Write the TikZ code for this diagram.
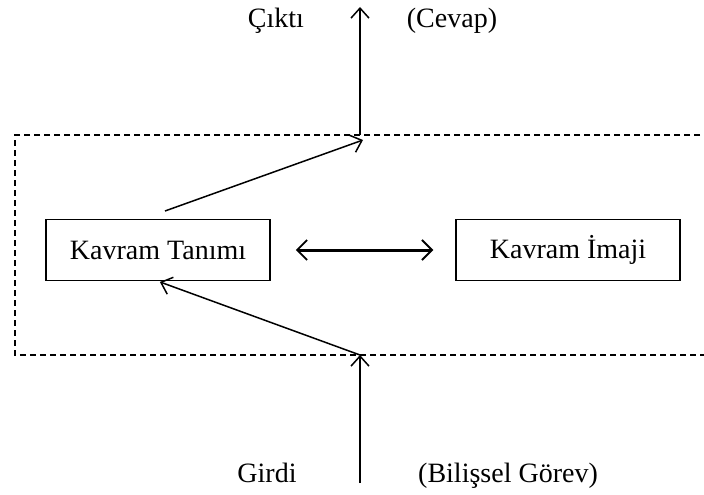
\documentclass[tikz,border=0pt]{standalone}
\usepackage{fontspec}
\setmainfont{Liberation Serif}
\usetikzlibrary{
    arrows.meta,
    positioning,
    calc,
}

\begin{document}
\begin{tikzpicture}[
    x=1pt, y=-1pt,
    every node/.style={font=\fontsize{28}{32}\selectfont, text=black},
    kavram/.style={draw, line width=1.5pt, minimum width=224pt, minimum height=61pt, inner sep=0pt},
    yazi/.style={inner sep=0pt, anchor=base},
    ok/.style={-{Straight Barb[length=10pt,width=18pt,line width=1.5pt]}, line width=1.5pt},
    ciftok/.style={{Straight Barb[length=10pt,width=20pt,line width=1.8pt]}-{Straight Barb[length=10pt,width=20pt,line width=1.8pt]}, line width=3pt},
    bolge/.style={line width=1.4pt, dash pattern=on 6pt off 4pt},
]

\clip (0,0) rectangle (704,495);
\useasboundingbox (0,0) rectangle (704,495);

% dashed region, runs past the right edge
\draw[bolge] (720,135) -- (15,135) -- (15,355) -- (720,355);

\node[kavram] (tanim) at (158,250) {Kavram Tanımı};
\node[kavram] (imaj) at (568,250) {Kavram İmaji};

\coordinate (girdi) at (360,483);
\coordinate (altkesisim) at (360,355);
\coordinate (ustkesisim) at (360,135);
\coordinate (cikti) at (360,7);
\coordinate (tanimust) at (165,211);
\coordinate (ustuc) at (363,140);

\node[yazi] (ciktiyazi) at (276,28) {Çıktı};
\node[yazi] (cevap) at (452,28) {(Cevap)};
\node[yazi] (girdiyazi) at (267,482) {Girdi};
\node[yazi] (gorev) at (508,482) {(Bilişsel Görev)};

\draw[ok] (girdi) -- (altkesisim);
\draw[ok, shorten >=2pt] (altkesisim) -- (tanim.south);
\draw[ok] (tanimust) -- (ustuc);
\draw[ok] (ustkesisim) -- (cikti);
\draw[ciftok, shorten <=25pt, shorten >=22pt] (tanim) -- (imaj);

\end{tikzpicture}
\end{document}
